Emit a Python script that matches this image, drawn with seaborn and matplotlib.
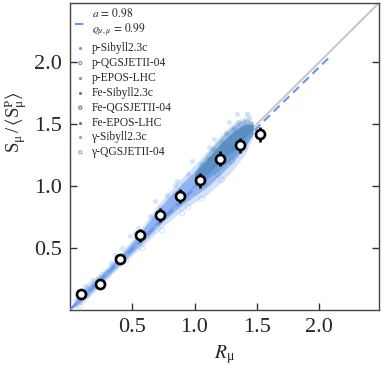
import numpy as np
import matplotlib
matplotlib.use("Agg")
import matplotlib.pyplot as plt
import seaborn as sns

# binned means of the scatter (white circles)
r_bin = [0.09, 0.245, 0.40, 0.562, 0.723, 0.887, 1.046, 1.207, 1.365, 1.524]
s_bin = [0.13, 0.21, 0.414, 0.602, 0.769, 0.922, 1.048, 1.22, 1.33, 1.42]
s_err = [0.03, 0.035, 0.04, 0.05, 0.055, 0.055, 0.06, 0.06, 0.06, 0.06]

# envelope of the full point cloud
cloud_r = [0.0, 0.1, 0.2, 0.3, 0.4, 0.5, 0.6, 0.7, 0.8, 0.9, 1.0, 1.1, 1.2, 1.3, 1.4, 1.47]
cloud_lo = [0.0, 0.05, 0.15, 0.25, 0.35, 0.44, 0.53, 0.63, 0.72, 0.80, 0.87, 0.93, 1.02, 1.12, 1.25, 1.40]
cloud_hi = [0.02, 0.17, 0.26, 0.35, 0.45, 0.57, 0.70, 0.84, 0.96, 1.07, 1.17, 1.28, 1.40, 1.50, 1.56, 1.52]

# envelope of the iron showers (darker patch)
fe_r = [1.0, 1.1, 1.2, 1.3, 1.4, 1.47]
fe_lo = [1.00, 1.06, 1.13, 1.22, 1.32, 1.42]
fe_hi = [1.12, 1.26, 1.38, 1.48, 1.54, 1.52]

# loose points at the edges of the cloud, per simulation set
series = {
    "p-Sibyll2.3c": ([0.12, 0.33, 0.48, 0.64, 0.78, 0.95, 1.12, 1.28, 0.55, 0.86],
                     [0.19, 0.38, 0.60, 0.76, 0.93, 1.10, 1.32, 1.52, 0.66, 1.04]),
    "p-QGSJETII-04": ([0.08, 0.26, 0.45, 0.58, 0.74, 0.90, 1.06, 1.22, 0.95],
                      [0.03, 0.21, 0.40, 0.50, 0.64, 0.78, 0.90, 1.05, 0.83]),
    "p-EPOS-LHC": ([0.18, 0.36, 0.52, 0.68, 0.84, 0.98, 1.16, 1.34, 0.42, 0.72],
                   [0.24, 0.44, 0.62, 0.88, 1.01, 1.20, 1.38, 1.58, 0.50, 0.82]),
    "Fe-Sibyll2.3c": ([1.05, 1.15, 1.25, 1.35, 1.42],
                      [1.18, 1.30, 1.43, 1.52, 1.58]),
    "Fe-QGSJETII-04": ([1.08, 1.18, 1.30, 1.40],
                       [1.02, 1.10, 1.20, 1.30]),
    "Fe-EPOS-LHC": ([1.12, 1.22, 1.32, 1.44],
                    [1.22, 1.36, 1.46, 1.55]),
    "γ-Sibyll2.3c": ([0.04, 0.14, 0.22, 0.30],
                     [0.08, 0.12, 0.25, 0.31]),
    "γ-QGSJETII-04": ([0.06, 0.16, 0.26, 0.38],
                      [0.04, 0.20, 0.28, 0.42]),
}
colors = {"p": "#6495ED", "Fe": "#4682B4", "γ": "#79A6F2"}

fit_a = 0.98
fit_r = [0.0, 2.1]

sns.set_style("ticks")
plt.rcParams["font.family"] = ["Liberation Serif", "DejaVu Serif"]
plt.rcParams["mathtext.fontset"] = "stix"

fig = plt.figure(figsize=(3.82, 3.65), dpi=100)
ax = fig.add_axes([0.183, 0.151, 0.809, 0.841])

# identity line
sns.lineplot(x=[0, 2.5], y=[0, 2.5], color="#c8c8c8", lw=1.5, ax=ax, zorder=1)

# point cloud as layered envelopes
lo = np.array(cloud_lo); hi = np.array(cloud_hi)
mid = (lo + hi) / 2; half = (hi - lo) / 2
ax.fill_between(cloud_r, lo, hi, color="#6495ED", alpha=0.28, lw=0, zorder=2)
ax.fill_between(cloud_r, mid - 0.65 * half, mid + 0.65 * half, color="#6495ED", alpha=0.6, lw=0, zorder=2)
flo = np.array(fe_lo); fhi = np.array(fe_hi)
fmid = (flo + fhi) / 2; fhalf = (fhi - flo) / 2
ax.fill_between(fe_r, flo, fhi, color="#4682B4", alpha=0.4, lw=0, zorder=2)
ax.fill_between(fe_r, fmid - 0.6 * fhalf, fmid + 0.6 * fhalf, color="#4682B4", alpha=0.5, lw=0, zorder=2)

# fit line
sns.lineplot(x=fit_r, y=[fit_a * v for v in fit_r], color="#6495ED", lw=1.5,
             linestyle=(0, (4, 2.5)), ax=ax, zorder=3,
             label="$a\\,=\\,0.98$\n$\\varrho_{\\mu,\\mu}\\,=\\,0.99$")

for name, (rx, sy) in series.items():
    c = colors[name.split("-")[0]]
    if "QGSJET" in name:
        sns.scatterplot(x=rx, y=sy, ax=ax, s=14, marker="o", facecolor="none",
                        edgecolor=c, linewidth=0.8, alpha=0.25, label=name, zorder=3)
    else:
        sns.scatterplot(x=rx, y=sy, ax=ax, s=14, color=c, linewidth=0,
                        alpha=0.25, label=name, zorder=3)

ax.errorbar(r_bin, s_bin, yerr=s_err, fmt="o", ms=6.5, mfc="white", mec="black",
            mew=1.9, ecolor="black", elinewidth=1.9, capsize=0, zorder=5)

ax.set_xlim(0, 2.48)
ax.set_ylim(0, 2.48)
ax.set_xticks([0.5, 1.0, 1.5, 2.0])
ax.set_yticks([0.5, 1.0, 1.5, 2.0])
ax.tick_params(direction="in", length=5, width=1, labelsize=16, right=True,
               color="#333333", pad=6)
for sp in ax.spines.values():
    sp.set_visible(True)
    sp.set_color("#444444")
    sp.set_linewidth(1.0)

ax.set_xlabel("$R_{\\mathregular{μ}}$", fontsize=14)
ax.set_ylabel("$\\mathregular{S_{μ}\\,/\\,\\langle S^{P}_{μ}\\rangle}$", fontsize=13.5)
ax.yaxis.set_label_coords(-0.13, 0.61)

leg = ax.legend(loc="upper left", frameon=False, fontsize=8.3, handlelength=1.0,
                handletextpad=0.5, labelspacing=0.25, borderaxespad=0.1,
                borderpad=0.3, markerscale=0.6)
for h in leg.legend_handles:
    h.set_alpha(1)

fig.savefig("out.png", dpi=100)
